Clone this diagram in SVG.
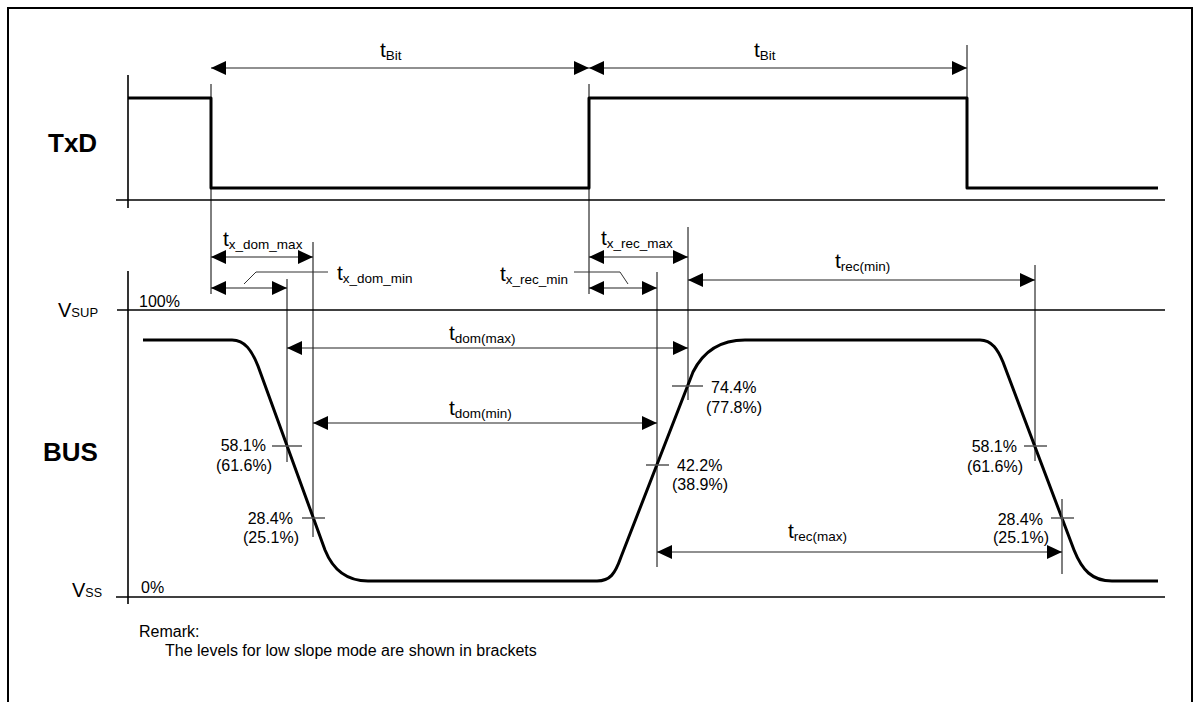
<svg xmlns="http://www.w3.org/2000/svg" width="1197" height="702" viewBox="0 0 1197 702">
<style>
text{font-family:"Liberation Sans",Arial,sans-serif;fill:#000}
.t{font-size:21px}
.sub{font-size:13.5px}
.pct{font-size:16px}
.big{font-size:26px;font-weight:bold}
.wave{fill:none;stroke:#000;stroke-width:3;stroke-linejoin:round}
.ax{stroke:#000;stroke-width:1.6;fill:none}
.ext{stroke:#000;stroke-width:1;fill:none}
.tick{stroke:#555;stroke-width:1.5;fill:none}
.dim{stroke:#222;stroke-width:1.2;fill:none;marker-start:url(#ah);marker-end:url(#ah)}
.lead{stroke:#333;stroke-width:1;fill:none}
</style>
<defs>
<marker id="ah" viewBox="0 0 15 14" refX="15" refY="7" markerWidth="15" markerHeight="14" markerUnits="userSpaceOnUse" orient="auto-start-reverse">
<path d="M0,0 L15,7 L0,14 z" fill="#000"/>
</marker>
</defs>
<rect width="1197" height="702" fill="#fff"/>
<path d="M8,702 V8 H1192 V702" fill="none" stroke="#000" stroke-width="2"/>

<g id="txd">
<line class="ax" x1="128" y1="75" x2="128" y2="208"/>
<line class="ax" x1="116" y1="200" x2="1165" y2="200"/>
<path class="wave" d="M128,98 H211 V188 H589 V98 H967 V188 H1158"/>
<text class="big" x="48" y="152">TxD</text>
</g>

<g id="bus">
<line class="ax" x1="128" y1="271" x2="128" y2="604"/>
<line class="ax" x1="117" y1="310" x2="1165" y2="310"/>
<line class="ax" x1="116" y1="597" x2="1165" y2="597" stroke-width="2"/>
<path class="wave" d="M143,340 H232 C245,340 252,351 258,366 L325,550 C333,570 346,581 368,581 H597 C610,581 615,574 621,557 L693,372 C703,352 720,340 745,340 H980 C992,340 998,350 1003,362 L1074,550 C1082,570 1092,581 1112,581 H1158"/>
<text class="big" x="43" y="461">BUS</text>
<text x="58" y="317" font-size="20">V<tspan font-size="13">SUP</tspan></text>
<text x="72" y="597" font-size="20">V<tspan font-size="12.5">SS</tspan></text>
<text class="pct" x="139" y="307">100%</text>
<text class="pct" x="141" y="593">0%</text>
</g>

<g id="extensions">
<line class="ext" x1="211" y1="84" x2="211" y2="294"/>
<line class="ext" x1="589" y1="84" x2="589" y2="294"/>
<line class="ext" x1="967" y1="45" x2="967" y2="98"/>
<line class="ext" x1="287" y1="279" x2="287" y2="462"/>
<line class="ext" x1="313" y1="242" x2="313" y2="537"/>
<line class="ext" x1="688" y1="227" x2="688" y2="400"/>
<line class="ext" x1="657" y1="272" x2="657" y2="567"/>
<line class="ext" x1="1035" y1="265" x2="1035" y2="461"/>
<line class="tick" x1="1062" y1="499" x2="1062" y2="574"/>
</g>

<g id="ticks">
<line class="tick" x1="272" y1="446" x2="302" y2="446"/>
<line class="tick" x1="302" y1="518" x2="325" y2="518"/>
<line class="tick" x1="672" y1="386" x2="703" y2="386"/>
<line class="tick" x1="646" y1="465" x2="669" y2="465"/>
<line class="tick" x1="1024" y1="446" x2="1047" y2="446"/>
<line class="tick" x1="1051" y1="518" x2="1074" y2="518"/>
</g>

<g id="levels" class="pct">
<text class="pct" x="266" y="451" text-anchor="end">58.1%</text>
<text class="pct" x="272" y="471" text-anchor="end">(61.6%)</text>
<text class="pct" x="293" y="524" text-anchor="end">28.4%</text>
<text class="pct" x="299" y="543" text-anchor="end">(25.1%)</text>
<text class="pct" x="711" y="393">74.4%</text>
<text class="pct" x="706" y="413">(77.8%)</text>
<text class="pct" x="677" y="471">42.2%</text>
<text class="pct" x="672" y="490">(38.9%)</text>
<text class="pct" x="1017" y="452" text-anchor="end">58.1%</text>
<text class="pct" x="1023" y="472" text-anchor="end">(61.6%)</text>
<text class="pct" x="1043" y="525" text-anchor="end">28.4%</text>
<text class="pct" x="1049" y="543" text-anchor="end">(25.1%)</text>
</g>

<g id="connectors">
<line class="dim" x1="211" y1="68" x2="589" y2="68"/>
<line class="dim" x1="589" y1="68" x2="967" y2="68"/>
<line class="dim" x1="211" y1="257" x2="313" y2="257"/>
<line class="dim" x1="211" y1="288" x2="287" y2="288"/>
<line class="dim" x1="287" y1="348" x2="688" y2="348"/>
<line class="dim" x1="313" y1="423" x2="657" y2="423"/>
<line class="dim" x1="589" y1="257" x2="688" y2="257"/>
<line class="dim" x1="589" y1="288" x2="657" y2="288"/>
<line class="dim" x1="688" y1="280" x2="1035" y2="280"/>
<line class="dim" x1="657" y1="552" x2="1062" y2="552"/>
<path class="lead" d="M244,284 L256,272 H328"/>
<path class="lead" d="M574,272 H620 L628,284"/>
</g>

<g id="labels">
<text class="t" x="380" y="57">t<tspan class="sub" dy="3">Bit</tspan></text>
<text class="t" x="754" y="57">t<tspan class="sub" dy="3">Bit</tspan></text>
<text class="t" x="223" y="246">t<tspan class="sub" dy="3">x_dom_max</tspan></text>
<text class="t" x="337" y="280">t<tspan class="sub" dy="3">x_dom_min</tspan></text>
<text class="t" x="601" y="245">t<tspan class="sub" dy="3">x_rec_max</tspan></text>
<text class="t" x="500" y="281">t<tspan class="sub" dy="3">x_rec_min</tspan></text>
<text class="t" x="449" y="340">t<tspan class="sub" dy="3">dom(max)</tspan></text>
<text class="t" x="449" y="415">t<tspan class="sub" dy="3">dom(min)</tspan></text>
<text class="t" x="835" y="268">t<tspan class="sub" dy="3">rec(min)</tspan></text>
<text class="t" x="788" y="538">t<tspan class="sub" dy="3">rec(max)</tspan></text>
</g>

<g id="remark">
<text x="139" y="637" font-size="16">Remark:</text>
<text x="165" y="656" font-size="16">The levels for low slope mode are shown in brackets</text>
</g>
</svg>
